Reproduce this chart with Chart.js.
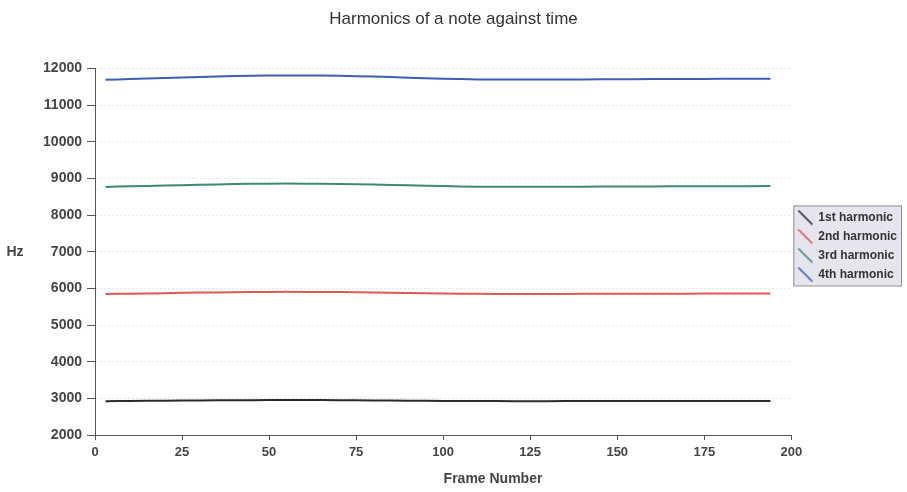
<!DOCTYPE html>
<html>
<head>
<meta charset="utf-8">
<script src="https://cdn.jsdelivr.net/npm/chart.js@4"></script>
<style>
  html, body { margin: 0; padding: 0; background: #fff; }
  #wrap { width: 907px; height: 492px; }
</style>
</head>
<body>
<div id="wrap"><canvas id="harmChart" width="907" height="492"></canvas></div>
<script>
// Frame numbers and the four harmonic frequencies (Hz)
const frames = [3, 10, 20, 30, 40, 50, 60, 70, 80, 90, 100, 110, 120, 130, 140, 150, 160, 170, 180, 194];
const harm1 = [2922, 2928, 2935, 2942, 2948, 2952, 2952, 2950, 2944, 2937, 2930, 2925, 2924, 2924, 2925, 2926, 2927, 2928, 2929, 2930];
const harm2 = [5844, 5856, 5870, 5884, 5896, 5904, 5904, 5900, 5888, 5874, 5860, 5850, 5848, 5848, 5850, 5852, 5854, 5856, 5858, 5860];
const harm3 = [8766, 8784, 8805, 8826, 8844, 8856, 8856, 8850, 8832, 8811, 8790, 8775, 8772, 8772, 8775, 8778, 8781, 8784, 8787, 8790];
const harm4 = [11688, 11712, 11740, 11768, 11792, 11808, 11808, 11800, 11776, 11748, 11720, 11700, 11696, 11696, 11700, 11704, 11708, 11712, 11716, 11720];
const seriesNames = ['1st harmonic', '2nd harmonic', '3rd harmonic', '4th harmonic'];
const seriesColors = ['#2a2a2e', '#e0574c', '#3d8a6c', '#3e5db8'];
const xTicks = [0, 25, 50, 75, 100, 125, 150, 175, 200];
const yTicks = [2000, 3000, 4000, 5000, 6000, 7000, 8000, 9000, 10000, 11000, 12000];

const FONT = '"Liberation Sans", Arial, sans-serif';

// little diagonal line used as legend swatch
function swatch(color) {
    const c = document.createElement('canvas');
    c.width = 16; c.height = 16;
    const g = c.getContext('2d');
    g.strokeStyle = color;
    g.lineWidth = 1.7;
    g.beginPath();
    g.moveTo(1, 1);
    g.lineTo(15, 15);
    g.stroke();
    return c;
}

const allSeries = [harm1, harm2, harm3, harm4];
const datasets = allSeries.map((vals, i) => ({
    label: seriesNames[i],
    data: frames.map((f, k) => ({ x: f, y: vals[k] })),
    borderColor: seriesColors[i],
    backgroundColor: seriesColors[i],
    borderWidth: 2,
    pointRadius: 0,
    pointStyle: swatch(seriesColors[i]),
    tension: 0.3
}));

// legend background box + free text labels (Hz, Frame Number)
const extras = {
    id: 'extras',
    beforeDraw(chart) {
        const ctx = chart.ctx;
        const boxes = chart.legend.legendHitBoxes;
        if (boxes && boxes.length) {
            const left = Math.min(...boxes.map(b => b.left)) - 5;
            const top = Math.min(...boxes.map(b => b.top)) - 6;
            const right = Math.max(...boxes.map(b => b.left + b.width)) + 4;
            const bottom = Math.max(...boxes.map(b => b.top + b.height)) + 5;
            ctx.save();
            ctx.fillStyle = '#e6e5ee';
            ctx.strokeStyle = '#8d8d95';
            ctx.lineWidth = 1;
            ctx.fillRect(left, top, right - left, bottom - top);
            ctx.strokeRect(left + 0.5, top + 0.5, right - left, bottom - top);
            ctx.restore();
        }
    },
    afterDraw(chart) {
        const ctx = chart.ctx;
        const area = chart.chartArea;
        ctx.save();
        ctx.fillStyle = '#444';
        ctx.font = 'bold 14px ' + FONT;
        ctx.textAlign = 'center';
        ctx.textBaseline = 'middle';
        ctx.fillText('Hz', 15, (area.top + area.bottom) / 2);
        ctx.fillText('Frame Number', (area.left + chart.width) / 2 - 8, 479);
        ctx.restore();
    }
};

const ctx = document.getElementById('harmChart').getContext('2d');
const harmChart = new Chart(ctx, {
    type: 'line',
    data: { datasets: datasets },
    options: {
        responsive: false,
        animation: false,
        layout: { padding: { left: 0, right: 0, top: 0, bottom: 0 } },
        plugins: {
            title: {
                display: true,
                text: 'Harmonics of a note against time',
                color: '#333',
                font: { family: FONT, size: 17, weight: 'normal' },
                padding: { top: 9, bottom: 39 }
            },
            legend: {
                position: 'right',
                labels: {
                    usePointStyle: true,
                    pointStyleWidth: 14,
                    boxWidth: 14,
                    boxHeight: 12,
                    padding: 7,
                    color: '#333',
                    font: { family: FONT, size: 12, weight: 'bold' }
                }
            },
            tooltip: { enabled: false }
        },
        scales: {
            x: {
                type: 'linear',
                min: 0,
                max: 200,
                afterBuildTicks(scale) { scale.ticks = xTicks.map(v => ({ value: v })); },
                afterFit(scale) { scale.height = 57; },
                grid: { drawOnChartArea: false, tickLength: 5, tickColor: '#555' },
                border: { color: '#555', width: 1 },
                ticks: {
                    color: '#444',
                    padding: 5,
                    font: { family: FONT, size: 13, weight: 'bold' },
                    callback: v => String(v)
                }
            },
            y: {
                min: 2000,
                max: 12000,
                afterBuildTicks(scale) { scale.ticks = yTicks.map(v => ({ value: v })); },
                afterFit(scale) { scale.width = 95; },
                grid: { color: '#e6e6ea', tickLength: 8, tickColor: '#555' },
                border: { color: '#555', width: 1, dash: [2, 2] },
                ticks: {
                    color: '#444',
                    padding: 5,
                    font: { family: FONT, size: 14, weight: 'bold' },
                    callback: v => String(v)
                }
            }
        }
    },
    plugins: [extras]
});
</script>
</body>
</html>
